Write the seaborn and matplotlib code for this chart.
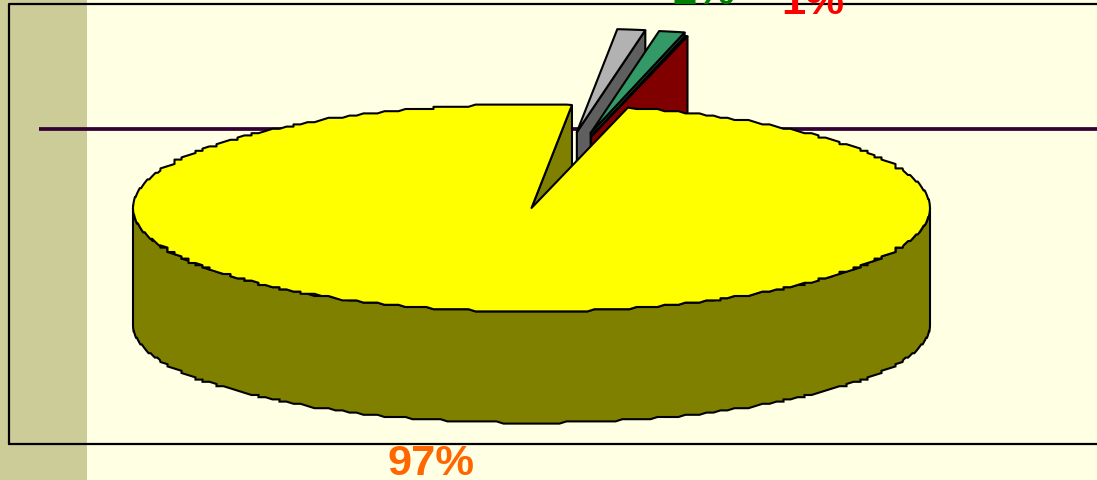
import numpy as np
import matplotlib
matplotlib.use("Agg")
import matplotlib.pyplot as plt
import seaborn as sns

# Data
slice_names = ["Main", "Grey", "Green", "Red"]
slice_values = [97.73, 1.13, 1.04, 0.10]
explode_values = [0.0, 0.74, 0.74, 0.71]
nudge_px = [0.0, 5.0, -1.0, -8.0]
label_texts = ["97%", "2%", "1%"]

top_colors = sns.color_palette(["#FFFF00", "#B2B2B2", "#339966", "#FF0000"])
wall_colors = sns.color_palette(["#808000", "#5F5F5F", "#1F5C3D", "#800000"])

W, H = 1097, 480
CX, CY, RX, RY = 531.5, 208.0, 398.5, 103.5
DEPTH = 117.0 / RY
LOWER_RY = 0.945
GRID_X, GRID_Y = 7.0, 2.2  # the rim of the original is a finely stepped polygon (px)

sns.set_theme(style="white")
plt.rcParams["font.family"] = ["Liberation Sans", "DejaVu Sans"]

fig = plt.figure(figsize=(W / 100, H / 100), dpi=100, facecolor="#FFFFE3")

# Pixel-space background
bg = fig.add_axes([0, 0, 1, 1])
bg.set_xlim(0, W)
bg.set_ylim(H, 0)
bg.axis("off")
bg.axvspan(0, 87, color="#CCCC99", lw=0, zorder=1)
bg.plot([8.5, W + 5], [4, 4], color="black", lw=1.6, zorder=2, solid_capstyle="butt")
bg.plot([8.5, 8.5], [4, 444], color="black", lw=1.6, zorder=2)
bg.plot([8.5, W + 5], [444, 444], color="black", lw=1.6, zorder=2)
bg.plot([39, W + 5], [128.5, 128.5], color="#330033", lw=2.7, zorder=3, solid_capstyle="butt")

# Pie axes: one unit of radius is RX px across and RY px down
ax = fig.add_axes([0, 0, 1, 1])
ax.patch.set_alpha(0)
wedges, _ = ax.pie(
    slice_values,
    explode=explode_values,
    colors=top_colors,
    startangle=90 - 14.0,
    counterclock=False,
    radius=1.0,
    wedgeprops=dict(edgecolor="black", linewidth=1.5, joinstyle="round"),
)
ax.set_aspect("auto")
ax.set_xlim(-CX / RX, (W - CX) / RX)
ax.set_ylim((CY - H) / RY, CY / RY)
ax.axis("off")


def stepped(xs, ys):
    """Snap a rim to the stepped drawing grid of the original, keeping the extreme x."""
    xs, ys = np.asarray(xs), np.asarray(ys)
    gx, gy = GRID_X / RX, GRID_Y / RY
    snapped = np.round(xs / gx) * gx
    # near the sides the rim is steep, so x must follow the curve there
    steep = np.abs(xs) > 0.93
    return np.where(steep, xs, snapped), np.round(ys / gy) * gy


ZTOP = {"Grey": 11, "Green": 13, "Red": 15, "Main": 18}
for wedge, name, wall, nudge in zip(wedges, slice_names, wall_colors, nudge_px):
    wedge.set_zorder(ZTOP[name])
    cx, cy = wedge.center
    cx += nudge / RX
    wedge.set_center((cx, cy))
    t = np.deg2rad(wedge.theta1)
    rim = (cx + np.cos(t), cy + np.sin(t))
    ax.fill(
        [cx, rim[0], rim[0], cx],
        [cy, rim[1], rim[1] - DEPTH, cy - DEPTH],
        facecolor=wall, edgecolor="black", lw=1.5, zorder=ZTOP[name] - 1,
    )

# Outer wall of the main slice (front half of the rim)
theta = np.linspace(np.pi, 2 * np.pi, 180)
xs = np.cos(theta)
ux, uy = stepped(xs, np.sin(theta))
lx, ly = stepped(xs, LOWER_RY * np.sin(theta) - DEPTH)
ax.fill(
    np.r_[ux, lx[::-1]], np.r_[uy, ly[::-1]],
    facecolor=wall_colors[0], edgecolor="black", lw=1.5, zorder=17.5,
)

# Main top face with the same stepped rim, from the pie's own wedge angles
main = wedges[0]
main.set_visible(False)
arc = np.deg2rad(np.linspace(main.theta1, main.theta2, 360))
ax_, ay_ = stepped(np.cos(arc), np.sin(arc))
ax.fill(
    np.r_[0, np.cos(arc[0]), ax_[1:-1], np.cos(arc[-1]), 0],
    np.r_[0, np.sin(arc[0]), ay_[1:-1], np.sin(arc[-1]), 0],
    facecolor=top_colors[0], edgecolor="black", lw=1.5, zorder=18, joinstyle="round",
)

# Labels on top
tx = fig.add_axes([0, 0, 1, 1])
tx.set_xlim(0, W)
tx.set_ylim(H, 0)
tx.axis("off")
tx.patch.set_alpha(0)
tx.text(431, 475, label_texts[0], color="#FF6600", fontsize=31.3, fontweight="bold",
        ha="center", va="baseline", zorder=30)
tx.text(703.5, 4, label_texts[1], color="#008000", fontsize=31.3, fontweight="bold",
        ha="center", va="baseline", zorder=30)
tx.text(813, 14, label_texts[2], color="#FF0000", fontsize=31.3, fontweight="bold",
        ha="center", va="baseline", zorder=30)

fig.savefig("out.png", dpi=100, facecolor=fig.get_facecolor())
